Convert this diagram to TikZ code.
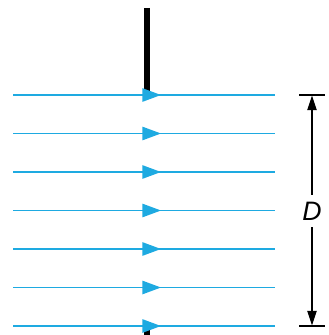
\documentclass[tikz,border=0pt]{standalone}
\usepackage{fontspec}
\setmainfont{Liberation Sans}
\usetikzlibrary{arrows.meta,decorations.markings}
\definecolor{flowblue}{RGB}{30,170,225}

\begin{document}
\begin{tikzpicture}[x=0.75pt,y=-0.75pt]
    \tikzstyle{flow}=[flowblue,line width=1.2pt,
      postaction={decorate},
      decoration={markings,mark=at position 0.565 with {\arrow{Triangle[length=14pt,width=10pt]}}}]
    \tikzstyle{wall}=[black,line width=4.5pt]
    \tikzstyle{dim}=[black,line width=0.9pt,-{Triangle[length=11pt,width=7pt]}]
      \useasboundingbox (0,0) rectangle (328,335);
      % plate edges
      \coordinate (W_top) at (147,8);
      \coordinate (W_bot) at (147,93);
      \coordinate (V_top) at (147,327);
      \coordinate (V_bot) at (147,335);
      \draw[wall] (W_top) -- (W_bot);
      \draw[wall] (V_top) -- (V_bot);
      % streamlines
      \foreach \y [count=\i] in {95,133.5,172,210.5,249,287.5,326} {
        \coordinate (L_\i) at (13,\y);
        \coordinate (R_\i) at (275,\y);
        \draw[flow] (L_\i) -- (R_\i);
      }
      % dimension D
      \coordinate (T_1) at (299,95);
      \coordinate (T_2) at (325,95);
      \coordinate (T_m) at (312,95.5);
      \coordinate (B_1) at (299,326);
      \coordinate (B_2) at (325,326);
      \coordinate (B_m) at (312,325.5);
      \draw[black,line width=0.9pt] (T_1) -- (T_2);
      \draw[black,line width=0.9pt] (B_1) -- (B_2);
      \node[font=\itshape\fontsize{20}{20}\selectfont,inner sep=5pt] (D) at (312,211) {D};
      \draw[dim] (D.north) -- (T_m);
      \draw[dim] (D.south) -- (B_m);
    \end{tikzpicture}
\end{document}
